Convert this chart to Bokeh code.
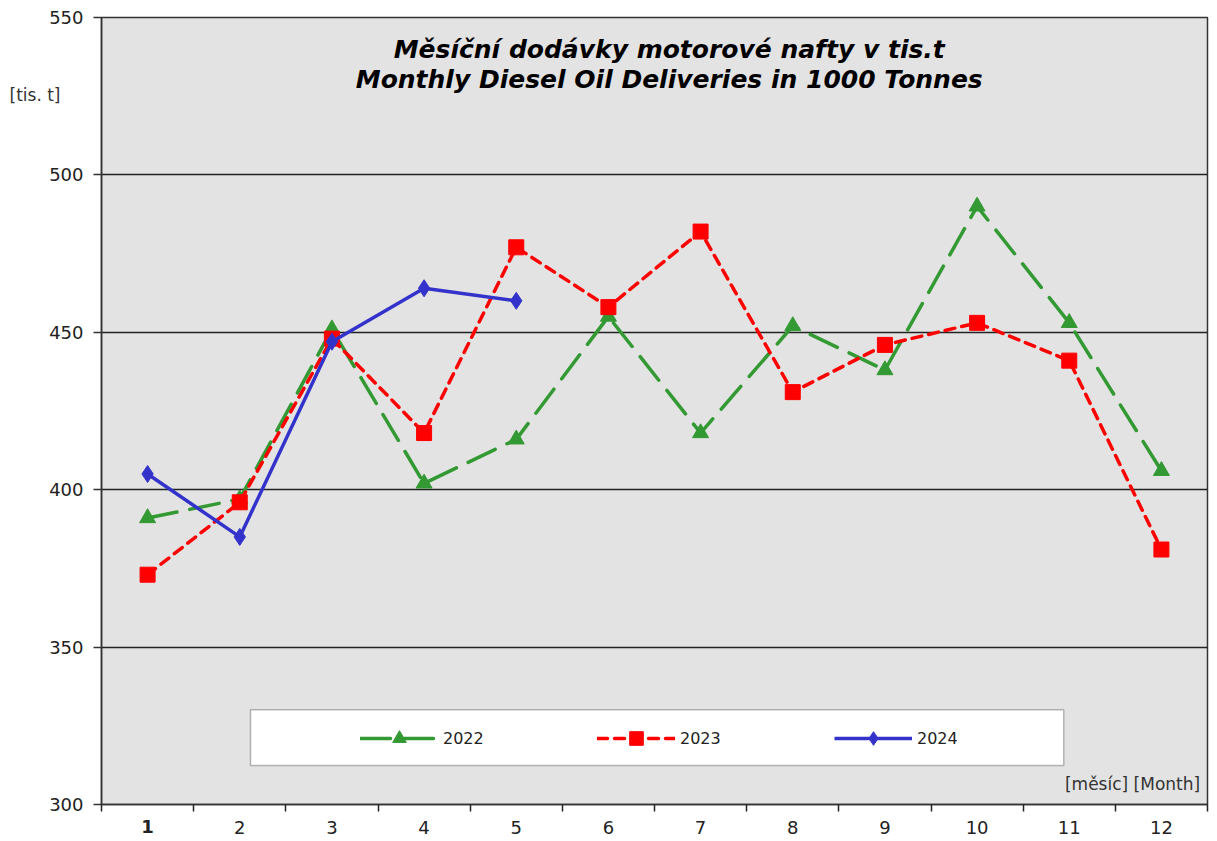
from bokeh.plotting import figure
from bokeh.models import (Range1d, FixedTicker, Label, Legend, LegendItem, BoxAnnotation,
                          LinearAxis)
from bokeh.embed import file_html
from bokeh.resources import INLINE

# ---- data ----
months = [1, 2, 3, 4, 5, 6, 7, 8, 9, 10, 11, 12]
d2022 = [391, 397, 451, 402, 416, 455, 418, 452, 438, 490, 453, 406]
d2023 = [373, 396, 448, 418, 477, 458, 482, 431, 446, 453, 441, 381]
months_2024 = [1, 2, 3, 4, 5]
d2024 = [405, 385, 447, 464, 460]
y_ticks = [300, 350, 400, 450, 500, 550]
series_names = ["2022", "2023", "2024"]
title_cz = "Měsíční dodávky motorové nafty v tis.t"
title_en = "Monthly Diesel Oil Deliveries in 1000 Tonnes"
y_unit = "[tis. t]"
x_unit = "[měsíc] [Month]"

FONT = "DejaVu Sans"
GREEN = "#339933"
RED = "#ff0000"
BLUE = "#3333cc"

p = figure(width=1215, height=840, output_backend="svg", toolbar_location=None,
           x_range=Range1d(0.5, 12.5), y_range=Range1d(300, 550),
           min_border_left=101, min_border_right=8, min_border_top=17, min_border_bottom=34)
p.background_fill_color = "#e3e3e3"
p.border_fill_color = "white"
p.outline_line_color = "#333333"
p.outline_line_width = 1.5

p.xgrid.visible = False
p.ygrid.ticker = FixedTicker(ticks=[350, 400, 450, 500])
p.ygrid.grid_line_color = "#222222"
p.ygrid.grid_line_width = 1.3

# y axis
p.yaxis.ticker = FixedTicker(ticks=y_ticks)
p.yaxis.major_tick_out = 8
p.yaxis.major_tick_in = 0
p.yaxis.minor_tick_out = 0
p.yaxis.axis_line_color = "#333333"
p.yaxis.axis_line_width = 1.5
p.yaxis.major_tick_line_color = "#333333"
p.yaxis.major_tick_line_width = 1.5
p.yaxis.major_label_text_font = FONT
p.yaxis.major_label_text_font_size = "18px"
p.yaxis.major_label_text_color = "#222222"
p.yaxis.major_label_standoff = 10

# x axis: ticks at boundaries (minor), labels at centres
p.xaxis.ticker = FixedTicker(ticks=months, minor_ticks=[m - 0.5 for m in months] + [12.5])
p.xaxis.major_tick_out = 0
p.xaxis.major_tick_in = 0
p.xaxis.minor_tick_out = 7
p.xaxis.minor_tick_in = 0
p.xaxis.minor_tick_line_color = "#222222"
p.xaxis.minor_tick_line_width = 1.5
p.xaxis.axis_line_color = "#333333"
p.xaxis.axis_line_width = 1.5
p.xaxis.major_label_text_font = FONT
p.xaxis.major_label_text_font_size = "18px"
p.xaxis.major_label_text_color = "#222222"
p.xaxis.major_label_standoff = 5
p.xaxis.major_label_overrides = {1: " "}

# extra axis carrying the bold first month label
ax1 = LinearAxis(ticker=FixedTicker(ticks=[months[0]], minor_ticks=[]),
                 major_tick_out=0, major_tick_in=0, minor_tick_out=0, minor_tick_in=0,
                 axis_line_alpha=0, major_label_standoff=-21,
                 major_label_text_font=FONT, major_label_text_font_size="18px",
                 major_label_text_font_style="bold", major_label_text_color="#222222")
p.add_layout(ax1, "below")

# extra left axis carrying the unit label
unit_pos = 525.3
axu = LinearAxis(ticker=FixedTicker(ticks=[unit_pos], minor_ticks=[]),
                 major_tick_out=0, major_tick_in=0, minor_tick_out=0, minor_tick_in=0,
                 axis_line_alpha=0, major_label_standoff=-14,
                 major_label_overrides={unit_pos: y_unit},
                 major_label_text_font=FONT, major_label_text_font_size="17px",
                 major_label_text_color="#333333")
p.add_layout(axu, "left")

# series
l22 = p.line(months, d2022, line_color=GREEN, line_width=3.5, line_dash="30 13", line_cap="round")
s22 = p.scatter(months, d2022, marker="triangle", size=16, fill_color=GREEN, line_color=GREEN)
l23 = p.line(months, d2023, line_color=RED, line_width=3.5, line_dash="10 7", line_cap="round")
s23 = p.scatter(months, d2023, marker="square", size=15, fill_color=RED, line_color=RED)
l24 = p.line(months_2024, d2024, line_color=BLUE, line_width=3.5)
s24 = p.scatter(months_2024, d2024, marker="diamond", size=17, fill_color=BLUE, line_color=BLUE)

# legend box
box = BoxAnnotation(left=2.117, right=10.94, bottom=312.35, top=330.06,
                    fill_color="white", fill_alpha=1.0, line_color="#222222", line_width=1.5)
p.add_layout(box)

legend = Legend(items=[LegendItem(label=series_names[0], renderers=[l22, s22]),
                       LegendItem(label=series_names[1], renderers=[l23, s23]),
                       LegendItem(label=series_names[2], renderers=[l24, s24])],
                orientation="horizontal", location=(249, 39),
                background_fill_alpha=0, border_line_alpha=0,
                padding=10, spacing=109, glyph_width=78, glyph_height=34,
                label_standoff=5, label_width=45, label_height=34, margin=0,
                label_text_font=FONT, label_text_font_size="16px", label_text_color="#222222")
p.add_layout(legend)

# texts
p.add_layout(Label(x=6.66, y=539.9, text=title_cz, text_align="center", text_baseline="middle",
                   text_font=FONT, text_font_size="25px", text_font_style="bold italic",
                   text_color="black"))
p.add_layout(Label(x=6.66, y=530.4, text=title_en, text_align="center", text_baseline="middle",
                   text_font=FONT, text_font_size="25px", text_font_style="bold italic",
                   text_color="black"))
p.add_layout(Label(x=12.42, y=306.6, text=x_unit, text_align="right", text_baseline="middle",
                   text_font=FONT, text_font_size="17px", text_color="#333333"))

open("out.html", "w").write(file_html(p, INLINE))
